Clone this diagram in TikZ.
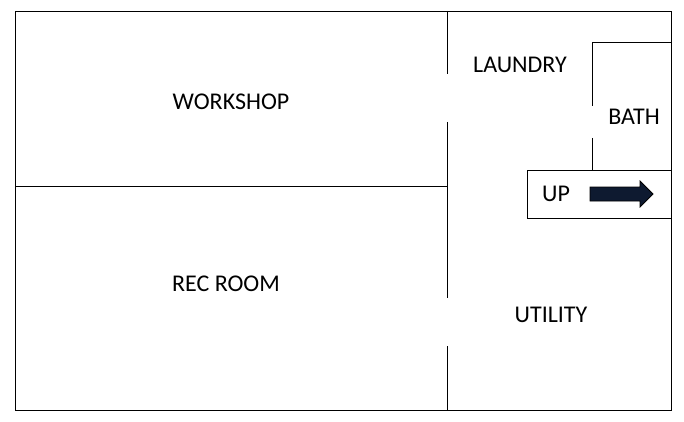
\documentclass[tikz,border=0pt]{standalone}
\usepackage{fontspec}
\setmainfont{Carlito}
\usepackage{xcolor}
\usepackage{tikz}
\definecolor{arrownavy}{HTML}{0E1A30}

\begin{document}
\begin{tikzpicture}[x=1pt, y=-1pt, line width=0.8pt,
    every node/.style={font=\fontsize{24}{28}\selectfont, inner sep=0pt}]
    \useasboundingbox (0,0) rectangle (684,422);

    % outer walls
    \draw (15,11) rectangle (671,410);
    \draw (15,186) -- (447,186);
    \draw (447,11) -- (447,74);
    \draw (447,122) -- (447,298);
    \draw (447,346) -- (447,410);

    % bath
    \draw (671,42) -- (592,42) -- (592,106);
    \draw (592,138) -- (592,170);

    % stairs
    \draw (527,170) rectangle (671,218);
    \draw[fill=arrownavy] (590,187) -- (640,187) -- (640,181) -- (653,194)
        -- (640,207) -- (640,201) -- (590,201) -- cycle;

    \node (workshop) at (231,102) {WORKSHOP};
    \node (recroom) at (226,284) {REC ROOM};
    \node (laundry) at (520,65) {LAUNDRY};
    \node (bath) at (634,117) {BATH};
    \node (up) at (556,194) {UP};
    \node (utility) at (551,315) {UTILITY};
\end{tikzpicture}
\end{document}
